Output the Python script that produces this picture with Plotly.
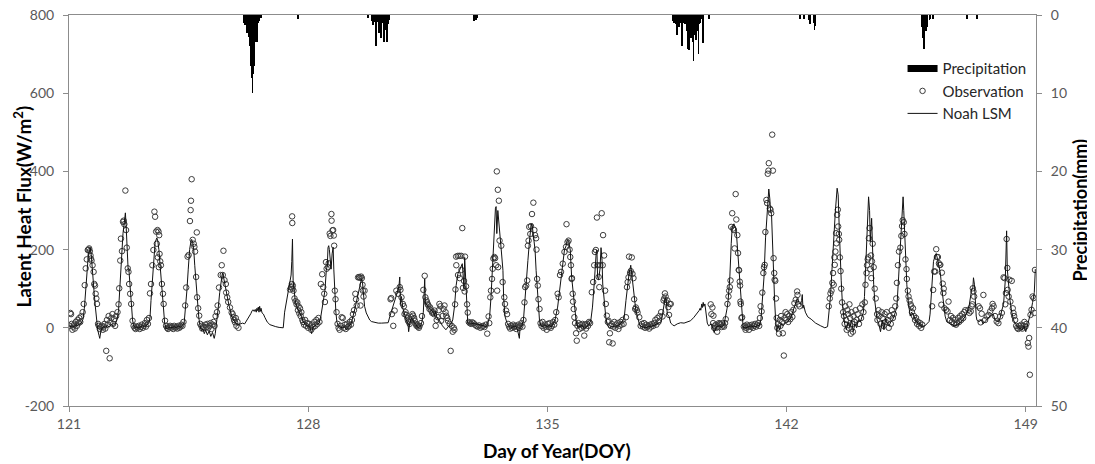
import plotly.graph_objects as go

# ---------------- data ----------------
x_tick_vals = [121, 128, 135, 142, 149]
y_tick_vals = [-200, 0, 200, 400, 600, 800]
y_tick_text = ["-200", "0", "200", "400", "600", "800"]
p_tick_vals = [0, 10, 20, 30, 40, 50]

# Noah LSM latent heat flux (DOY, W/m2)
noah_pts = [
    (121.0, 2), (121.05, 4), (121.1, 5), (121.15, 3), (121.2, 8), (121.25, 5), (121.3, 10), (121.36, 12), (121.41, 22),
    (121.45, 50), (121.48, 90), (121.52, 140), (121.56, 180), (121.6, 200), (121.62, 205), (121.65, 188), (121.68, 160),
    (121.71, 120), (121.74, 85), (121.77, 55), (121.8, 25), (121.84, -5), (121.88, -20), (121.9, -27), (121.93, -10), (121.97, 0),
    (122.02, 3), (122.07, 0), (122.12, 6), (122.18, 2), (122.24, 8), (122.3, 5), (122.36, 10), (122.41, 22), (122.45, 45),
    (122.48, 95), (122.51, 150), (122.54, 200), (122.58, 241), (122.62, 270), (122.65, 294), (122.67, 265), (122.69, 225),
    (122.71, 185), (122.73, 150), (122.75, 152), (122.77, 125), (122.8, 90), (122.83, 50), (122.86, 20), (122.89, 5), (122.94, 0), (122.98, 2),
    (123.04, 0), (123.1, 3), (123.16, 5), (123.22, 2), (123.28, 8), (123.33, 10), (123.37, 25), (123.4, 70), (123.44, 130),
    (123.48, 190), (123.52, 218), (123.57, 230), (123.6, 222), (123.63, 200), (123.66, 165), (123.7, 120), (123.73, 80),
    (123.77, 40), (123.8, 12), (123.84, -3), (123.9, 0), (123.96, 2),
    (124.02, 0), (124.08, 3), (124.14, 0), (124.2, 4), (124.26, 2), (124.32, 6), (124.37, 12), (124.41, 45), (124.45, 95),
    (124.49, 150), (124.53, 200), (124.57, 222), (124.59, 226), (124.62, 218), (124.65, 200), (124.68, 160), (124.71, 120),
    (124.74, 85), (124.77, 50), (124.8, 25), (124.84, 3), (124.88, -8), (124.92, -3), (124.96, -15), (125.0, -6), (125.05, -18),
    (125.1, -8), (125.15, -22), (125.2, -12), (125.25, -27), (125.28, -15), (125.31, 5),
    (125.34, 25), (125.37, 53), (125.41, 90), (125.45, 122), (125.48, 135), (125.5, 140), (125.53, 125), (125.56, 112),
    (125.6, 95), (125.64, 75), (125.68, 58), (125.72, 45), (125.76, 30), (125.81, 20), (125.86, 14), (125.91, 10), (125.96, 8),
    (126.02, 10), (126.08, 12), (126.14, 10), (126.2, 18), (126.26, 28), (126.32, 36), (126.36, 44), (126.39, 46), (126.42, 42),
    (126.45, 47), (126.48, 40), (126.5, 50), (126.52, 44), (126.54, 53), (126.56, 40), (126.58, 55), (126.6, 42), (126.62, 50),
    (126.65, 38), (126.69, 35), (126.73, 27), (126.8, 15), (126.88, 8), (126.96, 5), (127.05, 3), (127.15, 1), (127.27, 0),
    (127.31, 40), (127.36, 70), (127.42, 95), (127.47, 120), (127.5, 135), (127.52, 170), (127.54, 227), (127.56, 120),
    (127.59, 90), (127.62, 70), (127.66, 55), (127.71, 46), (127.76, 38), (127.81, 28), (127.86, 15), (127.92, 8), (127.98, 5),
    (128.04, 3), (128.1, -15), (128.14, 2), (128.2, 5), (128.26, 8), (128.32, 12),
    (128.37, 29), (128.42, 55), (128.46, 80), (128.49, 95), (128.53, 147), (128.56, 160), (128.58, 205), (128.6, 210),
    (128.62, 200), (128.65, 160), (128.67, 150), (128.7, 189), (128.73, 206), (128.75, 150), (128.78, 80), (128.81, 40),
    (128.84, 15), (128.88, 5), (128.94, 2), (129.0, 0), (129.06, 3), (129.12, -5), (129.18, 3), (129.24, 8), (129.28, 18),
    (129.32, 30), (129.37, 50), (129.41, 66), (129.46, 88), (129.51, 112), (129.56, 125), (129.59, 115), (129.62, 90),
    (129.65, 55), (129.7, 38), (129.75, 29), (129.8, 20), (129.85, 16), (129.95, 13), (130.05, 12), (130.15, 12), (130.25, 12), (130.34, 13),
    (130.39, 29), (130.44, 42), (130.48, 55), (130.53, 68), (130.58, 80), (130.63, 97), (130.66, 110), (130.68, 130), (130.7, 60),
    (130.73, 80), (130.77, 50), (130.82, 33), (130.87, 20), (130.92, 12), (130.94, -10), (130.97, 10), (131.02, 25), (131.07, 18),
    (131.12, 12), (131.17, 5), (131.22, 0), (131.28, 3), (131.33, 15),
    (131.37, 40), (131.39, 80), (131.41, 125), (131.43, 62), (131.46, 61), (131.5, 55), (131.55, 50), (131.6, 45), (131.66, 40),
    (131.7, 30), (131.72, 42), (131.77, 25), (131.82, 20), (131.87, 15), (131.93, 5), (131.98, 0), (132.03, -5), (132.1, 3),
    (132.17, 8), (132.23, 20), (132.28, 53),
    (132.33, 108), (132.38, 138), (132.43, 147), (132.48, 160), (132.51, 164), (132.53, 140), (132.56, 100), (132.58, 180),
    (132.6, 140), (132.62, 105), (132.65, 40), (132.67, 12), (132.75, 12), (132.85, 11), (132.95, 9), (133.05, 7), (133.15, 5),
    (133.22, 3), (133.27, 15),
    (133.31, 29), (133.35, 78), (133.4, 172), (133.45, 250), (133.48, 306), (133.5, 310), (133.52, 241), (133.55, 300),
    (133.58, 274), (133.62, 227), (133.65, 199), (133.7, 147), (133.72, 78), (133.76, 29), (133.82, 12), (133.88, 5), (133.94, 0),
    (134.0, 3), (134.06, 5), (134.12, -3), (134.18, -27), (134.2, 0), (134.25, 5), (134.3, 20),
    (134.33, 62), (134.38, 112), (134.43, 172), (134.47, 215), (134.52, 262), (134.55, 266), (134.57, 250), (134.6, 233),
    (134.64, 199), (134.67, 147), (134.72, 78), (134.77, 18), (134.81, 5), (134.87, 3), (134.93, 8), (134.99, 3), (135.05, 6),
    (135.11, 2), (135.17, 10), (135.23, 22),
    (135.3, 53), (135.35, 87), (135.4, 135), (135.45, 164), (135.5, 199), (135.55, 210), (135.59, 225), (135.62, 223),
    (135.67, 199), (135.71, 130), (135.77, 70), (135.84, 18), (135.89, 1), (135.95, 3), (136.02, 6), (136.08, -3), (136.15, 2),
    (136.21, 8), (136.27, 18),
    (136.32, 53), (136.37, 112), (136.4, 172), (136.43, 194), (136.45, 199), (136.47, 130), (136.5, 123), (136.54, 151),
    (136.57, 205), (136.6, 172), (136.62, 112), (136.66, 70), (136.71, 27), (136.76, 5), (136.82, 0), (136.9, 4), (136.98, 2),
    (137.06, 6), (137.14, 10), (137.2, 18), (137.25, 27),
    (137.3, 70), (137.35, 112), (137.39, 138), (137.44, 160), (137.47, 135), (137.5, 112), (137.54, 78), (137.59, 44),
    (137.64, 27), (137.69, 10), (137.74, 3), (137.8, 2), (137.88, 0), (137.96, 3), (138.04, 4), (138.12, 6), (138.2, 10), (138.28, 12),
    (138.33, 15), (138.37, 35), (138.4, 53), (138.45, 78), (138.48, 70), (138.51, 35), (138.56, 29), (138.61, 12), (138.66, 8),
    (138.71, 5), (138.8, 10), (138.9, 13), (139.0, 12), (139.09, 14), (139.19, 18), (139.29, 27), (139.35, 33), (139.39, 39),
    (139.44, 44), (139.47, 50), (139.49, 45), (139.52, 61), (139.54, 52), (139.56, 65), (139.58, 55), (139.61, 61), (139.65, 35),
    (139.68, 12), (139.72, 5), (139.8, 10), (139.88, -12), (139.95, 3), (140.03, 5), (140.1, 2), (140.17, 8), (140.22, 27),
    (140.26, 50), (140.29, 70), (140.34, 130), (140.38, 215), (140.41, 258), (140.46, 266), (140.51, 254), (140.54, 233),
    (140.59, 172), (140.64, 95), (140.69, 35), (140.73, 1), (140.8, 0), (140.88, 3), (140.96, 5), (141.04, 2), (141.12, 4),
    (141.2, 6), (141.25, 20),
    (141.29, 70), (141.34, 130), (141.385, 230), (141.435, 300), (141.48, 355), (141.51, 330), (141.53, 300), (141.56, 290),
    (141.58, 240), (141.61, 140), (141.65, 70), (141.68, 20), (141.71, -10), (141.75, 5), (141.8, -5), (141.85, 10), (141.9, 5),
    (141.96, 12), (142.02, 15), (142.08, 20), (142.14, 30), (142.2, 45),
    (142.26, 60), (142.31, 75), (142.36, 65), (142.41, 60), (142.44, 70), (142.46, 85), (142.48, 50), (142.5, 58), (142.55, 40),
    (142.62, 28), (142.72, 22), (142.85, 12), (143.0, 5), (143.12, 0), (143.2, 3),
    (143.235, 30), (143.285, 80), (143.33, 150), (143.38, 240), (143.43, 300), (143.48, 357), (143.51, 340), (143.54, 260),
    (143.56, 200), (143.6, 120), (143.635, 60), (143.67, 20), (143.7, 10), (143.75, -5), (143.8, 15), (143.85, 0), (143.9, 20),
    (143.95, -10), (144.0, 10), (144.05, 0), (144.1, 20), (144.16, 15), (144.21, 30), (144.25, 40),
    (144.28, 80), (144.31, 150), (144.355, 260), (144.4, 335), (144.43, 300), (144.45, 220), (144.49, 280), (144.52, 180),
    (144.55, 110), (144.58, 70), (144.61, 45), (144.65, 20), (144.7, 10), (144.75, -10), (144.8, 20), (144.85, -5), (144.9, 25),
    (144.95, 10), (145.0, 5), (145.05, 15), (145.1, 20), (145.15, 30), (145.2, 45),
    (145.23, 55), (145.28, 130), (145.33, 220), (145.38, 300), (145.41, 335), (145.43, 300), (145.46, 240), (145.49, 180),
    (145.52, 110), (145.57, 60), (145.62, 30), (145.66, 40), (145.7, 35), (145.75, 25), (145.8, 15), (145.9, 10), (145.95, 3),
    (146.05, 5), (146.12, 12), (146.17, 16), (146.2, 35),
    (146.25, 100), (146.3, 170), (146.35, 185), (146.38, 190), (146.42, 175), (146.45, 160), (146.5, 140), (146.545, 100),
    (146.59, 60), (146.64, 30), (146.69, 15), (146.75, 12), (146.8, 10), (146.9, 5), (147.0, 8), (147.1, 15), (147.2, 25), (147.25, 35),
    (147.29, 40), (147.35, 60), (147.39, 80), (147.42, 100), (147.45, 100), (147.47, 128), (147.5, 110), (147.52, 70),
    (147.55, 30), (147.57, 20), (147.62, 15), (147.7, 20), (147.75, 10), (147.8, 15), (147.85, 20), (147.95, 30), (148.05, 35),
    (148.1, 20), (148.2, 15), (148.25, 25), (148.3, 45),
    (148.35, 60), (148.4, 120), (148.42, 200), (148.44, 248), (148.46, 150), (148.49, 120), (148.52, 80), (148.54, 70),
    (148.59, 40), (148.64, 20), (148.7, 10), (148.8, 0), (148.9, -5), (148.95, 5), (149.0, -10), (149.05, 5), (149.1, 20),
    (149.15, 40), (149.2, 65), (149.25, 90), (149.28, 150),
]

# Observed latent heat flux (DOY, W/m2)
obs_pts = [
    (121.02, 5), (121.04, 38), (121.06, 35), (121.08, 10), (121.1, -5), (121.12, 3), (121.15, 8), (121.17, -2), (121.2, 15),
    (121.23, 5), (121.25, 20), (121.28, 12), (121.3, 25), (121.33, 15), (121.36, 30), (121.4, 40), (121.43, 61), (121.46, 109),
    (121.49, 152), (121.52, 175), (121.55, 199), (121.57, 200), (121.59, 203), (121.61, 196), (121.63, 185), (121.64, 177),
    (121.66, 172), (121.69, 160), (121.72, 143), (121.74, 112), (121.76, 108), (121.78, 87), (121.8, 75), (121.82, 61),
    (121.85, 10), (121.87, 5), (121.9, -3), (121.93, 2), (121.96, 5), (121.99, -5),
    (122.02, 3), (122.04, 10), (122.06, -2), (122.09, -59), (122.11, 20), (122.13, 8), (122.16, 30), (122.19, -78), (122.21, 15),
    (122.24, 25), (122.27, 35), (122.29, 10), (122.32, 22), (122.35, 5), (122.38, 30), (122.42, 40), (122.45, 60), (122.47, 101),
    (122.5, 172), (122.52, 228), (122.55, 196), (122.58, 271), (122.6, 274), (122.62, 265), (122.65, 351), (122.67, 250),
    (122.69, 205), (122.72, 152), (122.74, 143), (122.76, 112), (122.79, 87), (122.82, 61), (122.86, 18), (122.89, 5),
    (122.92, 0), (122.95, -3), (122.98, 3),
    (123.01, 0), (123.04, 5), (123.07, -3), (123.1, 2), (123.13, 8), (123.16, 0), (123.19, 5), (123.22, 12), (123.25, 3),
    (123.28, 20), (123.31, 10), (123.34, 25), (123.37, 88), (123.4, 112), (123.44, 160), (123.47, 199), (123.5, 297),
    (123.52, 284), (123.55, 246), (123.57, 215), (123.59, 250), (123.6, 180), (123.62, 246), (123.63, 155), (123.64, 237),
    (123.65, 189), (123.67, 170), (123.69, 160), (123.72, 112), (123.75, 87), (123.77, 61), (123.81, 18), (123.84, 5),
    (123.87, 0), (123.9, -3), (123.93, 2), (123.96, 5), (123.99, 0),
    (124.02, 3), (124.05, -3), (124.08, 5), (124.11, 0), (124.14, 2), (124.17, -2), (124.2, 5), (124.23, 0), (124.26, 3),
    (124.29, 8), (124.32, 5), (124.35, 15), (124.4, 57), (124.43, 103), (124.47, 182), (124.5, 186), (124.54, 273),
    (124.56, 301), (124.57, 325), (124.59, 380), (124.62, 225), (124.65, 215), (124.67, 207), (124.69, 195), (124.72, 130),
    (124.74, 244), (124.75, 78), (124.78, 50), (124.81, 31), (124.84, 10), (124.87, 5), (124.9, -2), (124.93, 3), (124.96, 0),
    (124.99, 8), (125.02, 2), (125.05, 10), (125.08, 0), (125.11, 5), (125.14, 12), (125.17, -3), (125.2, 8), (125.23, 15),
    (125.26, 5), (125.29, 30),
    (125.33, 40), (125.35, 57), (125.39, 103), (125.44, 135), (125.47, 160), (125.5, 135), (125.52, 197), (125.55, 122),
    (125.59, 112), (125.6, 90), (125.63, 78), (125.66, 66), (125.71, 52), (125.76, 39), (125.79, 35), (125.81, 27),
    (125.83, 20), (125.86, 14), (125.88, 25), (125.9, 5), (125.93, 15), (125.96, 0),
    (127.47, 98), (127.5, 104), (127.52, 112), (127.53, 285), (127.535, 268), (127.54, 100), (127.55, 108), (127.57, 95),
    (127.6, 75), (127.63, 68), (127.66, 60), (127.68, 65), (127.7, 45), (127.72, 55), (127.74, 37), (127.76, 50), (127.78, 30),
    (127.8, 40), (127.83, 20), (127.85, 15), (127.88, 8), (127.91, 20), (127.94, 5), (127.97, 12), (128.0, 0), (128.03, 10),
    (128.06, 3), (128.09, -5), (128.12, 8), (128.15, 2), (128.18, 15), (128.21, 5), (128.24, 20), (128.27, 10), (128.3, 25), (128.33, 15),
    (128.37, 112), (128.41, 137), (128.44, 104), (128.47, 87), (128.49, 66), (128.52, 168), (128.54, 151), (128.58, 155),
    (128.6, 165), (128.63, 241), (128.65, 235), (128.68, 291), (128.685, 274), (128.71, 249), (128.73, 250), (128.75, 236),
    (128.76, 210), (128.78, 95), (128.8, 73), (128.83, 40), (128.86, 10), (128.89, 0), (128.92, -5), (128.95, 5), (128.98, 27),
    (129.01, 25), (129.04, 0), (129.07, 8), (129.1, -3), (129.13, 10), (129.16, 2), (129.19, 5), (129.22, 15), (129.25, 8), (129.28, 20),
    (129.31, 35), (129.34, 45), (129.38, 87), (129.4, 73), (129.42, 57), (129.46, 129), (129.49, 130), (129.51, 128),
    (129.53, 57), (129.55, 131), (129.57, 127), (129.59, 110), (129.6, 95), (129.62, 80), (129.65, 95),
    (130.41, 73), (130.43, 76), (130.45, 35), (130.49, 5), (130.53, 44), (130.58, 95), (130.63, 87), (130.68, 104), (130.7, 97),
    (130.73, 78), (130.77, 61), (130.8, 55), (130.82, 35), (130.85, 40), (130.87, 33), (130.9, 25), (130.92, 18), (130.95, 15),
    (130.97, 10), (131.0, 20), (131.02, 27), (131.05, 35), (131.07, 31), (131.1, 25), (131.12, 18), (131.15, 10), (131.17, 5),
    (131.19, 8), (131.21, 3), (131.24, 0), (131.26, 5), (131.3, 12), (131.33, 30),
    (131.37, 97), (131.41, 133), (131.43, 78), (131.46, 70), (131.48, 65), (131.5, 60), (131.52, 57), (131.55, 48), (131.57, 52),
    (131.6, 44), (131.63, 38), (131.65, 40), (131.68, 35), (131.7, 44), (131.73, 5), (131.76, 20), (131.8, 27), (131.82, 45),
    (131.84, 61), (131.87, 55), (131.89, 18), (131.93, 30), (131.96, 48), (131.99, 57), (132.02, 40), (132.04, 31), (132.07, 25),
    (132.09, 18), (132.14, 10), (132.17, -59), (132.2, 5), (132.23, -10), (132.26, 0), (132.28, -5),
    (132.3, 60), (132.31, 98), (132.33, 182), (132.335, 160), (132.38, 184), (132.385, 135), (132.43, 184), (132.435, 127),
    (132.48, 184), (132.485, 148), (132.51, 255), (132.53, 102), (132.56, 120), (132.58, 93), (132.59, 182), (132.62, 106),
    (132.65, 60), (132.67, 39), (132.7, 15), (132.73, 12), (132.77, 10), (132.8, 14), (132.84, 12), (132.88, 8), (132.92, 5),
    (132.96, 3), (133.0, 6), (133.04, 0), (133.08, 3), (133.12, 5), (133.16, 2), (133.2, 8), (133.24, -15), (133.28, 29), (133.3, 12),
    (133.33, 78), (133.35, 95), (133.38, 125), (133.4, 151), (133.42, 177), (133.45, 181), (133.47, 178), (133.5, 160),
    (133.52, 400), (133.53, 95), (133.55, 353), (133.56, 155), (133.58, 325), (133.6, 223), (133.65, 210), (133.69, 117),
    (133.74, 78), (133.76, 61), (133.79, 44), (133.82, 35), (133.85, 10), (133.88, 3), (133.91, -2), (133.94, 5), (133.97, 0),
    (134.0, 8), (134.03, 2), (134.06, 5), (134.09, -3), (134.12, 3), (134.15, 8), (134.18, 0), (134.21, 5), (134.24, 12),
    (134.27, 3), (134.3, 20),
    (134.33, 65), (134.35, 104), (134.38, 108), (134.41, 121), (134.43, 210), (134.45, 223), (134.47, 258), (134.5, 240),
    (134.52, 260), (134.55, 291), (134.59, 320), (134.62, 250), (134.64, 237), (134.67, 229), (134.68, 200), (134.7, 125),
    (134.72, 108), (134.74, 73), (134.77, 48), (134.8, 12), (134.83, 5), (134.86, 15), (134.89, 0), (134.92, 8), (134.95, 3),
    (134.98, -5), (135.01, 10), (135.04, 2), (135.07, 12), (135.1, 0), (135.13, 5), (135.17, 15), (135.2, 8), (135.23, 20), (135.26, 40),
    (135.3, 87), (135.33, 78), (135.37, 135), (135.4, 143), (135.45, 164), (135.5, 194), (135.545, 207), (135.56, 265),
    (135.59, 219), (135.62, 223), (135.65, 200), (135.67, 181), (135.69, 160), (135.71, 125), (135.72, 127), (135.74, 87),
    (135.75, 67), (135.77, 48), (135.79, 27), (135.81, 12), (135.84, -14), (135.86, -33), (135.88, 5), (135.91, 12),
    (135.94, -3), (135.97, 8), (136.0, 0), (136.03, 10), (136.06, 3), (136.08, -20), (136.1, 8), (136.13, -2), (136.16, 10),
    (136.19, 5), (136.22, 15), (136.25, 12),
    (136.3, 91), (136.34, 117), (136.37, 160), (136.39, 194), (136.42, 199), (136.45, 282), (136.47, 160), (136.5, 130),
    (136.52, 104), (136.55, 160), (136.59, 293), (136.62, 160), (136.63, 237), (136.66, 185), (136.69, 95), (136.71, 61),
    (136.74, 31), (136.77, 15), (136.79, 18), (136.81, -37), (136.83, -14), (136.86, 5), (136.88, 10), (136.91, -40),
    (136.93, 3), (136.96, 15), (136.99, 0), (137.02, 8), (137.05, 12), (137.08, -3), (137.11, 5), (137.14, 15), (137.17, 8),
    (137.2, 20), (137.23, 10),
    (137.3, 27), (137.33, 104), (137.35, 117), (137.375, 129), (137.39, 182), (137.42, 140), (137.44, 145), (137.47, 180),
    (137.49, 138), (137.52, 127), (137.54, 73), (137.57, 48), (137.59, 52), (137.62, 45), (137.64, 39), (137.69, 27),
    (137.73, 5), (137.77, 10), (137.8, 3), (137.83, 12), (137.86, 0), (137.89, 8), (137.92, 2), (137.95, 5), (137.98, -2),
    (138.01, 8), (138.04, 3), (138.07, 10), (138.1, 5), (138.13, 12), (138.16, 20), (138.19, 8), (138.22, 25), (138.25, 15), (138.28, 30),
    (138.33, 40), (138.37, 29), (138.4, 70), (138.42, 75), (138.44, 88), (138.46, 80), (138.48, 65), (138.51, 70), (138.54, 53),
    (138.56, 33), (138.58, 61), (138.61, 61),
    (139.78, 60), (139.8, 35), (139.83, 52), (139.85, 12), (139.86, 31), (139.88, 0), (139.9, 5), (139.93, 8), (139.95, 0),
    (139.97, -10), (140.0, 3), (140.02, 12), (140.05, 10), (140.07, 8), (140.1, 2), (140.12, 12), (140.15, 6), (140.17, 3),
    (140.2, 12), (140.22, 22),
    (140.27, 61), (140.3, 80), (140.32, 95), (140.34, 104), (140.36, 121), (140.38, 258), (140.41, 293), (140.44, 254),
    (140.46, 250), (140.48, 203), (140.51, 342), (140.53, 277), (140.56, 237), (140.58, 191), (140.6, 148), (140.61, 147),
    (140.63, 118), (140.64, 108), (140.65, 67), (140.66, 61), (140.68, 25), (140.7, 27), (140.75, 3), (140.78, 5), (140.8, -5),
    (140.81, 0), (140.84, 8), (140.87, 3), (140.9, -5), (140.93, 6), (140.96, 2), (140.99, 8), (141.02, 0), (141.05, 5),
    (141.08, 10), (141.11, 3), (141.14, 8), (141.17, 12), (141.2, 5), (141.22, 25),
    (141.24, 55), (141.27, 42), (141.29, 90), (141.32, 140), (141.34, 155), (141.36, 161), (141.38, 245), (141.41, 327),
    (141.43, 319), (141.45, 394), (141.47, 402), (141.48, 421), (141.51, 305), (141.53, 302), (141.55, 293), (141.58, 494),
    (141.6, 402), (141.62, 178), (141.64, 140), (141.65, 123), (141.67, 120), (141.69, 75), (141.71, 25), (141.73, 0),
    (141.75, 10), (141.78, -15), (141.8, 20), (141.82, 5), (141.84, 30), (141.87, 15), (141.89, -14), (141.92, -71),
    (141.94, 25), (141.97, 40), (141.99, 20), (142.02, 35), (142.05, 15), (142.08, 30), (142.11, 22), (142.14, 40),
    (142.17, 28), (142.2, 46), (142.23, 63), (142.27, 72), (142.31, 93), (142.32, 84), (142.35, 60), (142.38, 55),
    (143.235, 55), (143.265, 75), (143.285, 88), (143.315, 95), (143.34, 115), (143.36, 140), (143.38, 110), (143.4, 180),
    (143.41, 161), (143.43, 195), (143.45, 242), (143.46, 216), (143.48, 289), (143.5, 302), (143.51, 259), (143.53, 240),
    (143.54, 225), (143.56, 180), (143.58, 145), (143.6, 100), (143.625, 65), (143.655, 40), (143.68, 30), (143.7, 10),
    (143.72, 55), (143.74, 20), (143.76, -5), (143.78, 45), (143.8, 35), (143.82, 0), (143.84, 60), (143.86, 25), (143.88, -15),
    (143.9, 40), (143.92, 10), (143.94, -10), (143.96, 30), (143.99, 15), (144.02, 45), (144.05, 20), (144.08, 35),
    (144.12, 10), (144.15, 50), (144.18, 25), (144.22, 60), (144.25, 40),
    (144.29, 65), (144.31, 110), (144.34, 140), (144.355, 160), (144.375, 175), (144.39, 180), (144.41, 229), (144.43, 255),
    (144.45, 150), (144.47, 185), (144.48, 127), (144.5, 170), (144.52, 215), (144.55, 155), (144.58, 100), (144.61, 75),
    (144.65, 35), (144.66, 20), (144.69, 45), (144.72, 30), (144.75, 10), (144.78, 40), (144.81, 25), (144.84, 5), (144.87, 35),
    (144.9, 15), (144.93, 40), (144.96, 20), (144.99, 0), (145.02, 30), (145.05, 10), (145.08, 45), (145.11, 25), (145.14, 35), (145.18, 55),
    (145.21, 75), (145.23, 115), (145.26, 160), (145.29, 195), (145.33, 205), (145.36, 235), (145.38, 260), (145.4, 275),
    (145.43, 270), (145.45, 240), (145.48, 175), (145.51, 150), (145.52, 125), (145.55, 95), (145.57, 80), (145.6, 70),
    (145.63, 60), (145.65, 55), (145.67, 40), (145.7, 50), (145.73, 30), (145.76, 20), (145.79, 25), (145.82, 10), (145.85, 15),
    (145.88, 5), (145.91, 12), (145.94, 0), (145.97, 8),
    (146.26, 55), (146.29, 97), (146.32, 144), (146.35, 144), (146.38, 201), (146.4, 181), (146.43, 181), (146.46, 165),
    (146.48, 161), (146.5, 161), (146.53, 59), (146.545, 141), (146.57, 113), (146.59, 89), (146.6, 100), (146.62, 50),
    (146.67, 46), (146.71, 42), (146.74, 67), (146.78, 20), (146.81, 30), (146.84, 15), (146.87, 25), (146.9, 10), (146.93, 20),
    (146.96, 8), (146.99, 12), (147.02, 25), (147.05, 15), (147.08, 30), (147.11, 20), (147.14, 35), (147.17, 25), (147.2, 40), (147.23, 45),
    (147.32, 46), (147.35, 38), (147.39, 42), (147.42, 55), (147.44, 60), (147.45, 101), (147.47, 93), (147.49, 80),
    (147.62, 55), (147.66, 50), (147.68, 14), (147.71, 36), (147.76, 84), (147.81, 20), (147.86, 29), (147.91, 33),
    (147.96, 42), (148.01, 50), (148.03, 61), (148.06, 55), (148.1, 30), (148.15, 16), (148.2, 12), (148.25, 29), (148.3, 38),
    (148.35, 129), (148.38, 127), (148.4, 60), (148.42, 89), (148.44, 227), (148.46, 153), (148.47, 97), (148.5, 80),
    (148.52, 123), (148.55, 67), (148.59, 120), (148.62, 50), (148.64, 38), (148.66, 30), (148.69, 20), (148.72, 5), (148.75, 0),
    (148.78, -3), (148.81, 5), (148.84, 0), (148.87, 8), (148.9, -2), (148.93, 5), (148.96, 15), (148.99, 3), (149.02, 10),
    (149.06, -39), (149.08, -48), (149.1, -26), (149.12, -120), (149.14, 33), (149.17, 46), (149.2, 80), (149.23, 76),
    (149.25, 38), (149.27, 148),
]

# Precipitation (DOY, mm)
precip_pts = [
    (126.13, 1.0), (126.15, 1.3), (126.17, 1.3), (126.19, 1.3), (126.21, 2.3), (126.23, 2.3), (126.25, 1.8), (126.27, 2.8),
    (126.29, 4.0), (126.31, 5.5), (126.33, 6.5), (126.35, 8.0), (126.37, 10.0), (126.4, 7.5), (126.42, 6.5), (126.44, 3.2),
    (126.46, 2.5), (126.48, 3.4), (126.5, 3.4), (126.52, 1.5), (126.54, 1.0), (126.56, 0.8), (126.58, 0.3), (126.62, 0.4),
    (127.71, 0.5), (129.75, 0.4),
    (129.87, 0.8), (129.9, 1.3), (129.92, 0.6), (129.94, 0.9), (129.96, 0.7), (129.98, 3.9), (130.0, 1.0), (130.02, 0.8),
    (130.04, 0.9), (130.06, 1.2), (130.08, 2.3), (130.1, 1.0), (130.12, 1.5), (130.14, 2.9), (130.17, 0.9), (130.19, 1.0),
    (130.21, 3.4), (130.23, 1.2), (130.25, 0.8), (130.27, 1.9), (130.29, 1.0), (130.31, 3.4), (130.33, 1.2), (130.35, 0.9), (130.38, 0.6),
    (132.86, 0.8), (132.92, 0.6), (132.95, 0.4),
    (138.68, 0.8), (138.7, 1.0), (138.72, 1.0), (138.74, 0.7), (138.76, 1.2), (138.78, 2.0), (138.8, 2.6), (138.83, 1.0),
    (138.85, 1.5), (138.87, 1.2), (138.89, 0.9), (138.91, 1.0), (138.93, 2.2), (138.95, 3.9), (138.97, 1.0), (138.99, 0.9),
    (139.01, 1.1), (139.03, 1.0), (139.06, 1.2), (139.08, 2.0), (139.1, 4.3), (139.12, 1.5), (139.14, 4.5), (139.16, 2.0),
    (139.18, 2.6), (139.2, 2.9), (139.22, 2.9), (139.24, 2.0), (139.26, 3.5), (139.28, 5.9), (139.3, 2.5), (139.32, 1.5),
    (139.34, 3.2), (139.36, 1.8), (139.38, 1.0), (139.4, 2.0), (139.42, 5.0), (139.44, 1.2), (139.46, 1.0), (139.48, 0.8),
    (139.5, 0.5), (139.55, 3.6), (139.72, 0.5),
    (142.39, 0.5), (142.41, 0.4), (142.5, 0.5), (142.66, 0.6), (142.68, 1.2), (142.8, 1.0), (142.82, 1.9), (142.84, 1.4),
    (145.96, 1.5), (145.98, 2.5), (146.0, 3.0), (146.02, 4.4), (146.04, 1.8), (146.06, 1.0), (146.08, 2.0), (146.1, 1.5),
    (146.12, 0.8), (146.18, 0.7), (146.2, 0.5), (146.28, 0.5), (146.3, 0.4),
    (147.28, 0.5), (147.57, 0.5),
]

noah_doy = [p[0] for p in noah_pts]
noah_flux = [p[1] for p in noah_pts]
obs_doy = [p[0] for p in obs_pts]
obs_flux = [p[1] for p in obs_pts]
precip_doy = [p[0] for p in precip_pts]
precip_mm = [p[1] for p in precip_pts]

# ---------------- figure ----------------
FONT = "Lato"
AXIS_GREY = "#8c8c8c"
TICK_GREY = "#595959"

# The page adds an 8px body margin, so the figure is 8px smaller
# and its margins are 8px tighter than the target picture positions.
fig = go.Figure()
# legend entry for precipitation drawn as a wide black swatch (as in the reference)
fig.add_trace(go.Scatter(
    x=[None], y=[None], yaxis="y2", mode="lines", name="Precipitation",
    line=dict(color="black", width=7), hoverinfo="skip",
))
fig.add_trace(go.Bar(
    x=precip_doy, y=precip_mm, yaxis="y2", name="Precipitation", showlegend=False,
    width=0.021, marker=dict(color="black", line=dict(width=0)),
))
fig.add_trace(go.Scatter(
    x=obs_doy, y=obs_flux, mode="markers", name="Observation",
    marker=dict(symbol="circle-open", size=5.5, color="#3c3c3c", line=dict(width=1)),
))
fig.add_trace(go.Scatter(
    x=noah_doy, y=noah_flux, mode="lines", name="Noah LSM",
    line=dict(color="#111111", width=1),
))

common_axis = dict(
    ticks="outside", ticklen=5, tickcolor=AXIS_GREY,
    showline=True, linecolor=AXIS_GREY, linewidth=1,
    showgrid=False, zeroline=False, automargin=False,
    ticklabeloverflow="allow",
    tickfont=dict(family=FONT, size=14, color=TICK_GREY),
)

fig.update_layout(
    width=1087, height=456,
    margin=dict(l=61, r=59, t=7, b=58, autoexpand=False),
    paper_bgcolor="white", plot_bgcolor="white",
    font=dict(family=FONT, size=14, color=TICK_GREY),
    showlegend=True,
    bargap=0,
    legend=dict(
        x=0.862, y=0.905, xanchor="left", yanchor="top",
        bgcolor="rgba(0,0,0,0)", font=dict(family=FONT, size=15, color="#262626"),
        traceorder="normal", tracegroupgap=1,
    ),
    xaxis=dict(
        range=[121, 149.3], tickmode="array", tickvals=x_tick_vals,
        mirror=True, **common_axis,
    ),
    yaxis=dict(
        range=[-200, 800], tickmode="array", tickvals=y_tick_vals, ticktext=y_tick_text,
        ticklabelstandoff=6, **common_axis,
    ),
    yaxis2=dict(
        overlaying="y", side="right", range=[50, 0],
        tickmode="array", tickvals=p_tick_vals,
        ticklabelstandoff=6, **common_axis,
    ),
    annotations=[
        dict(text="<b>Latent Heat Flux(W/m<sup>2</sup>)</b>", xref="paper", yref="paper",
             x=-0.0476, y=0.51, textangle=-90, showarrow=False,
             font=dict(family=FONT, size=19, color="black"), xanchor="center", yanchor="middle"),
        dict(text="<b>Precipitation(mm)</b>", xref="paper", yref="paper",
             x=1.0445, y=0.5, textangle=-90, showarrow=False,
             font=dict(family=FONT, size=18, color="black"), xanchor="center", yanchor="middle"),
        dict(text="<b>Day of Year(DOY)</b>", xref="paper", yref="paper",
             x=0.505, y=-0.115, showarrow=False,
             font=dict(family=FONT, size=19, color="black"), xanchor="center", yanchor="middle"),
    ],
)

fig.write_html("out.html")
